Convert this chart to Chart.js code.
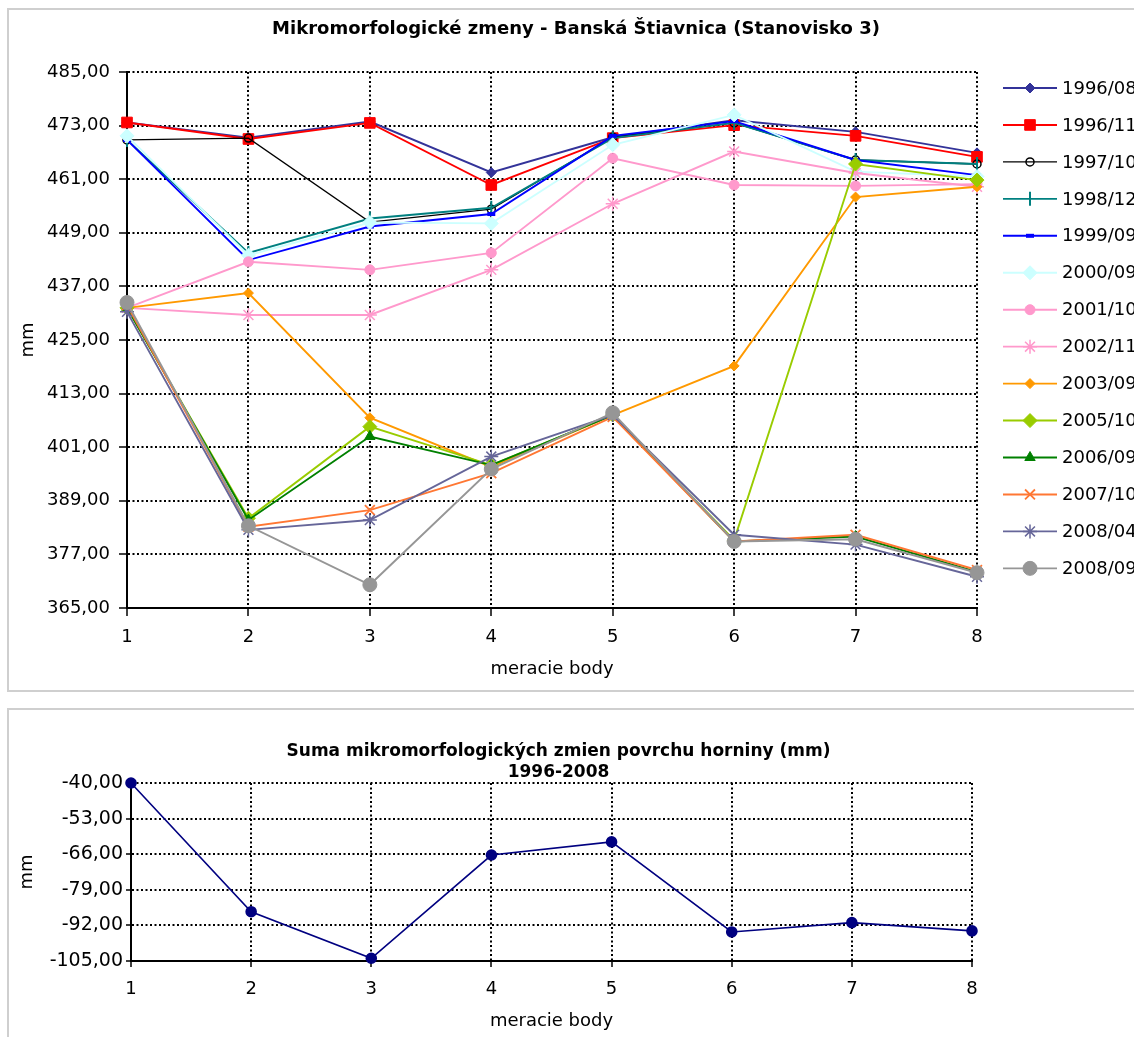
<!DOCTYPE html>
<html>
<head>
<meta charset="utf-8">
<script src="https://cdn.jsdelivr.net/npm/chart.js@4.4.1/dist/chart.umd.min.js"></script>
<style>
  html, body { margin: 0; padding: 0; background: #fff; overflow: hidden; }
  #wrap { position: relative; width: 1134px; height: 1037px; overflow: hidden; }
  .panel { position: absolute; border: 2px solid #cfcfcf; box-sizing: border-box; }
  canvas { position: absolute; left: 0; }
</style>
</head>
<body>
<div id="wrap">
  <div class="panel" style="left:7px; top:8px; width:1140px; height:684px;"></div>
  <div class="panel" style="left:7px; top:708px; width:1140px; height:340px;"></div>
  <canvas id="top" width="1134" height="700" style="top:0"></canvas>
  <canvas id="bottom" width="1134" height="337" style="top:700px"></canvas>
</div>
<script>
// measuring points
const points = ['1', '2', '3', '4', '5', '6', '7', '8'];

// series (mm)
const s1996_08 = [473.7, 470.3, 473.9, 462.5, 470.4, 474.2, 471.6, 466.9];
const s1996_11 = [473.7, 470.0, 473.6, 459.7, 470.2, 473.1, 470.7, 466.0];
const s1997_10 = [469.8, 470.2, 451.4, 454.3, 470.4, 473.6, 465.3, 464.4];
const s1998_12 = [469.8, 444.5, 452.2, 454.6, 470.2, 473.6, 465.3, 464.4];
const s1999_09 = [469.8, 442.9, 450.4, 453.2, 470.7, 474.0, 465.3, 461.9];
const s2000_09 = [470.7, 444.0, 451.3, 451.1, 468.7, 475.4, 462.7, 461.6];
const s2001_10 = [432.2, 442.5, 440.7, 444.5, 465.7, 459.7, 459.5, 459.9];
const s2002_11 = [432.2, 430.6, 430.6, 440.7, 455.5, 467.2, 462.4, 459.3];
const s2003_09 = [432.2, 435.5, 407.6, 396.6, 408.2, 419.2, 457.0, 459.3];
const s2005_10 = [432.2, 385.1, 405.6, 397.0, 408.2, 380.2, 464.4, 460.8];
const s2006_09 = [432.2, 384.7, 403.4, 397.0, 408.2, 379.9, 381.0, 373.1];
const s2007_10 = [432.8, 383.2, 386.9, 395.2, 407.8, 379.9, 381.4, 373.5];
const s2008_04 = [431.3, 382.5, 384.7, 398.9, 408.2, 381.4, 379.2, 372.0];
const s2008_09 = [433.4, 383.4, 370.2, 396.1, 408.7, 379.9, 380.4, 372.9];

// sum of changes 1996-2008
const sumValues = [-40.0, -87.0, -104.0, -66.3, -61.5, -94.4, -91.0, -94.0];

// axis ticks
const topTicks = { min: 365, max: 485, step: 12 };
const bottomTicks = { min: -105, max: -40, step: 13 };

const FONT = 'DejaVu Sans';
const fmt = v => Number(v).toFixed(2).replace('.', ',');

function series(label, data, color, style, extra) {
  return Object.assign({
    label: label,
    data: data,
    borderColor: color,
    backgroundColor: color,
    pointBorderColor: color,
    pointBackgroundColor: color,
    borderWidth: 1.9,
    pointStyle: style,
    pointRadius: 5,
    pointBorderWidth: 1,
    pointHoverRadius: 5,
    tension: 0,
    clip: false
  }, extra || {});
}

const datasets = [
  series('1996/08', s1996_08, '#333399', 'rectRot', { pointRadius: 5 }),
  series('1996/11', s1996_11, '#ff0000', 'rect', { pointRadius: 7.5 }),
  series('1997/10', s1997_10, '#000000', 'circle', { pointRadius: 4, pointBackgroundColor: 'rgba(0,0,0,0)', pointBorderWidth: 1.5, borderWidth: 1.3 }),
  series('1998/12', s1998_12, '#008080', 'line', { pointRadius: 7, pointRotation: 90, pointBorderWidth: 2 }),
  series('1999/09', s1999_09, '#0000ff', 'line', { pointRadius: 4, pointBorderWidth: 4 }),
  series('2000/09', s2000_09, '#ccffff', 'rectRot', { pointRadius: 7 }),
  series('2001/10', s2001_10, '#ff99cc', 'circle', { pointRadius: 5 }),
  series('2002/11', s2002_11, '#ff99cc', 'star', { pointRadius: 7, pointBorderWidth: 1.5 }),
  series('2003/09', s2003_09, '#ff9900', 'rectRot', { pointRadius: 5 }),
  series('2005/10', s2005_10, '#99cc00', 'rectRot', { pointRadius: 7 }),
  series('2006/09', s2006_09, '#008000', 'triangle', { pointRadius: 6 }),
  series('2007/10', s2007_10, '#ff7733', 'crossRot', { pointRadius: 7, pointBorderWidth: 1.8 }),
  series('2008/04', s2008_04, '#666699', 'star', { pointRadius: 7, pointBorderWidth: 1.5 }),
  series('2008/09', s2008_09, '#969696', 'circle', { pointRadius: 7 })
];
// later series drawn on top, like the original
datasets.forEach((d, i) => { d.order = datasets.length - i; });

// legend drawn as line + marker, at the right of the plot
const lineLegend = {
  id: 'lineLegend',
  afterDraw(chart) {
    const ctx = chart.ctx;
    const x0 = 1003, x1 = 1057, xm = 1030, y0 = 88, dy = 36.95;
    chart.data.datasets.forEach((d, i) => {
      const y = y0 + i * dy;
      ctx.save();
      ctx.strokeStyle = d.borderColor;
      ctx.lineWidth = d.borderWidth;
      ctx.beginPath();
      ctx.moveTo(x0, y);
      ctx.lineTo(x1, y);
      ctx.stroke();
      ctx.fillStyle = d.pointBackgroundColor;
      ctx.strokeStyle = d.pointBorderColor;
      ctx.lineWidth = d.pointBorderWidth;
      Chart.helpers.drawPoint(ctx, {
        pointStyle: d.pointStyle,
        radius: d.pointRadius,
        rotation: d.pointRotation || 0,
        borderWidth: d.pointBorderWidth
      }, xm, y);
      ctx.fillStyle = '#000';
      ctx.font = '18px "' + FONT + '"';
      ctx.textBaseline = 'middle';
      ctx.textAlign = 'left';
      ctx.fillText(d.label, 1062, y + 1);
      ctx.restore();
    });
  }
};

function gridOpts(tickLength) {
  return { color: '#000', lineWidth: 2, tickLength: tickLength, tickColor: '#000', tickWidth: 1.5 };
}

new Chart(document.getElementById('top'), {
  type: 'line',
  data: { labels: points, datasets: datasets },
  options: {
    responsive: false,
    animation: false,
    layout: { padding: { left: 18, right: 0, top: 0, bottom: 10 } },
    plugins: {
      legend: { display: false },
      tooltip: { enabled: false },
      title: {
        display: true,
        text: 'Mikromorfologické zmeny - Banská Štiavnica (Stanovisko 3)',
        color: '#000',
        font: { family: FONT, size: 18, weight: 'bold', lineHeight: 1.2 },
        padding: { top: 19, bottom: 31.4 }
      }
    },
    scales: {
      x: {
        offset: false,
        grid: gridOpts(8),
        border: { display: true, color: '#000', width: 2, dash: [2, 2.5] },
        ticks: { color: '#000', font: { family: FONT, size: 18 }, padding: 11, maxRotation: 0 },
        title: { display: true, text: 'meracie body', color: '#000', font: { family: FONT, size: 18 }, padding: { top: 0, bottom: 10 } },
        afterFit(s) { s.height = 82; }
      },
      y: {
        min: topTicks.min,
        max: topTicks.max,
        grid: gridOpts(8),
        border: { display: true, color: '#000', width: 2, dash: [2, 2.5] },
        ticks: { stepSize: topTicks.step, color: '#000', font: { family: FONT, size: 18 }, padding: 9, callback: fmt },
        title: { display: true, text: 'mm', color: '#000', font: { family: FONT, size: 18 }, padding: 0 },
        afterFit(s) { s.width = 109; }
      },
      legendSpace: {
        type: 'linear',
        position: 'right',
        display: true,
        grid: { display: false, drawTicks: false },
        border: { display: false },
        ticks: { display: false },
        afterFit(s) { s.width = 157; }
      }
    }
  },
  plugins: [lineLegend]
});

new Chart(document.getElementById('bottom'), {
  type: 'line',
  data: {
    labels: points,
    datasets: [{
      label: 'suma',
      data: sumValues,
      borderColor: '#000080',
      backgroundColor: '#000080',
      pointBackgroundColor: '#000080',
      pointBorderColor: '#000080',
      borderWidth: 1.6,
      pointStyle: 'circle',
      pointRadius: 5,
      tension: 0,
      clip: false
    }]
  },
  options: {
    responsive: false,
    animation: false,
    layout: { padding: { left: 17, right: 34, top: 0, bottom: 5 } },
    plugins: {
      legend: { display: false },
      tooltip: { enabled: false },
      title: {
        display: true,
        text: ['Suma mikromorfologických zmien povrchu horniny (mm)', '1996-2008'],
        color: '#000',
        font: { family: FONT, size: 17, weight: 'bold', lineHeight: 1.2 },
        padding: { top: 41.8, bottom: 0.4 }
      }
    },
    scales: {
      x: {
        offset: false,
        grid: gridOpts(6),
        border: { display: true, color: '#000', width: 2, dash: [2, 2.5] },
        ticks: { color: '#000', font: { family: FONT, size: 18 }, padding: 12, maxRotation: 0 },
        title: { display: true, text: 'meracie body', color: '#000', font: { family: FONT, size: 18 }, padding: { top: 0, bottom: 0 } },
        afterFit(s) { s.height = 71; }
      },
      y: {
        min: bottomTicks.min,
        max: bottomTicks.max,
        grid: gridOpts(5),
        border: { display: true, color: '#000', width: 2, dash: [2, 2.5] },
        ticks: { stepSize: bottomTicks.step, color: '#000', font: { family: FONT, size: 19 }, padding: 3, callback: fmt },
        title: { display: true, text: 'mm', color: '#000', font: { family: FONT, size: 18 }, padding: 0 },
        afterFit(s) { s.width = 114; }
      },
      spacer: {
        type: 'linear',
        position: 'right',
        display: true,
        grid: { display: false, drawTicks: false },
        border: { display: false },
        ticks: { display: false },
        afterFit(s) { s.width = 128; }
      }
    }
  }
});
</script>
</body>
</html>
